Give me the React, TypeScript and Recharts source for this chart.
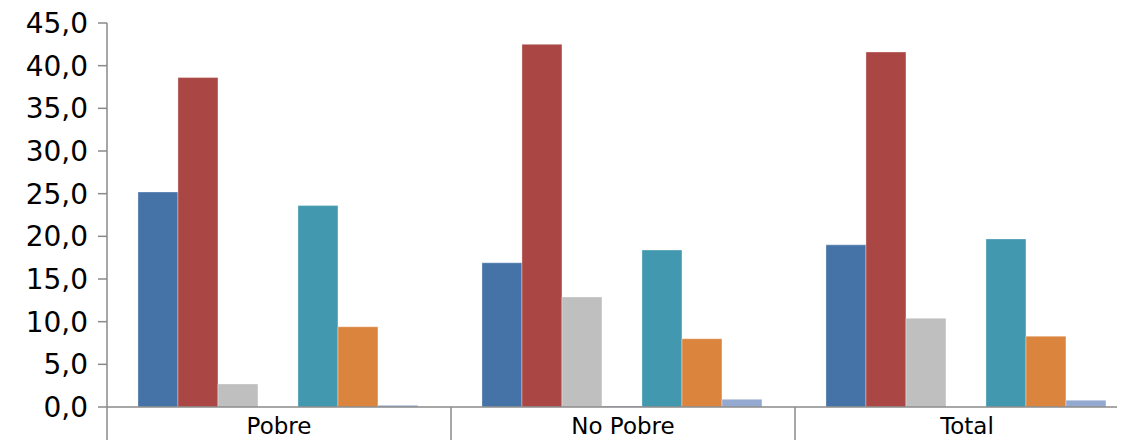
import { Bar, BarChart, XAxis, YAxis } from "recharts";

const categories = ["Pobre", "No Pobre", "Total"];
const serie1 = [25.2, 16.9, 19.0];
const serie2 = [38.6, 42.5, 41.6];
const serie3 = [2.7, 12.9, 10.4];
const serie4 = [0.0, 0.1, 0.0];
const serie5 = [23.6, 18.4, 19.7];
const serie6 = [9.4, 8.0, 8.3];
const serie7 = [0.2, 0.9, 0.8];
const yTicks = [0, 5, 10, 15, 20, 25, 30, 35, 40, 45];

const seriesKeys = ["s1", "s2", "s3", "s4", "s5", "s6", "s7"];
const colors = ["#4572A7", "#AA4643", "#BFBFBF", "#8064A2", "#4198AF", "#DB843D", "#93A9CF"];

const data = categories.map((name, i) => ({
  name,
  s1: serie1[i],
  s2: serie2[i],
  s3: serie3[i],
  s4: serie4[i],
  s5: serie5[i],
  s6: serie6[i],
  s7: serie7[i],
}));

const CHART_W = 1131;
const CHART_H = 432;
const Y_W = 99;
const X_H = 33;
const AXIS = "#8a8a8a";
const halfBand = (CHART_W - Y_W) / categories.length / 2;

function CategoryTick(props: any) {
  const { x, payload, index } = props;
  const top = CHART_H - X_H;
  return (
    <g>
      <line x1={x - halfBand} x2={x - halfBand} y1={top} y2={CHART_H} stroke={AXIS} strokeWidth={1.5} />
      {index === categories.length - 1 && (
        <line x1={x + halfBand} x2={x + halfBand} y1={top} y2={CHART_H} stroke={AXIS} strokeWidth={1.5} />
      )}
      <text x={x} y={top + 27} textAnchor="middle" fontSize={23} fill="#000">
        {payload.value}
      </text>
    </g>
  );
}

export default function App() {
  return (
    <div style={{ width: CHART_W, height: CHART_H, fontFamily: "'DejaVu Sans', Verdana, sans-serif" }}>
      <style>{`html, body { overflow: hidden; }`}</style>
      <BarChart
        width={CHART_W}
        height={CHART_H}
        data={data}
        margin={{ top: 15, right: 0, left: 0, bottom: 0 }}
        barCategoryGap="9%"
        barGap={0}
      >
        <XAxis
          dataKey="name"
          height={X_H}
          axisLine={{ stroke: AXIS, strokeWidth: 1.5 }}
          tickLine={false}
          tick={<CategoryTick />}
          interval={0}
        />
        <YAxis
          width={Y_W}
          domain={[0, 45]}
          ticks={yTicks}
          interval={0}
          axisLine={{ stroke: AXIS, strokeWidth: 1.5 }}
          tickLine={{ stroke: AXIS, strokeWidth: 1.5 }}
          tickSize={9}
          tickMargin={10}
          tick={{ fontSize: 28, fill: "#000" }}
          tickFormatter={(v: number) => v.toFixed(1).replace(".", ",")}
        />
        {seriesKeys.map((k, i) => (
          <Bar
            key={k}
            dataKey={k}
            fill={colors[i]}
            stroke="#ffffff"
            strokeOpacity={0.35}
            strokeWidth={1}
            isAnimationActive={false}
          />
        ))}
      </BarChart>
    </div>
  );
}
